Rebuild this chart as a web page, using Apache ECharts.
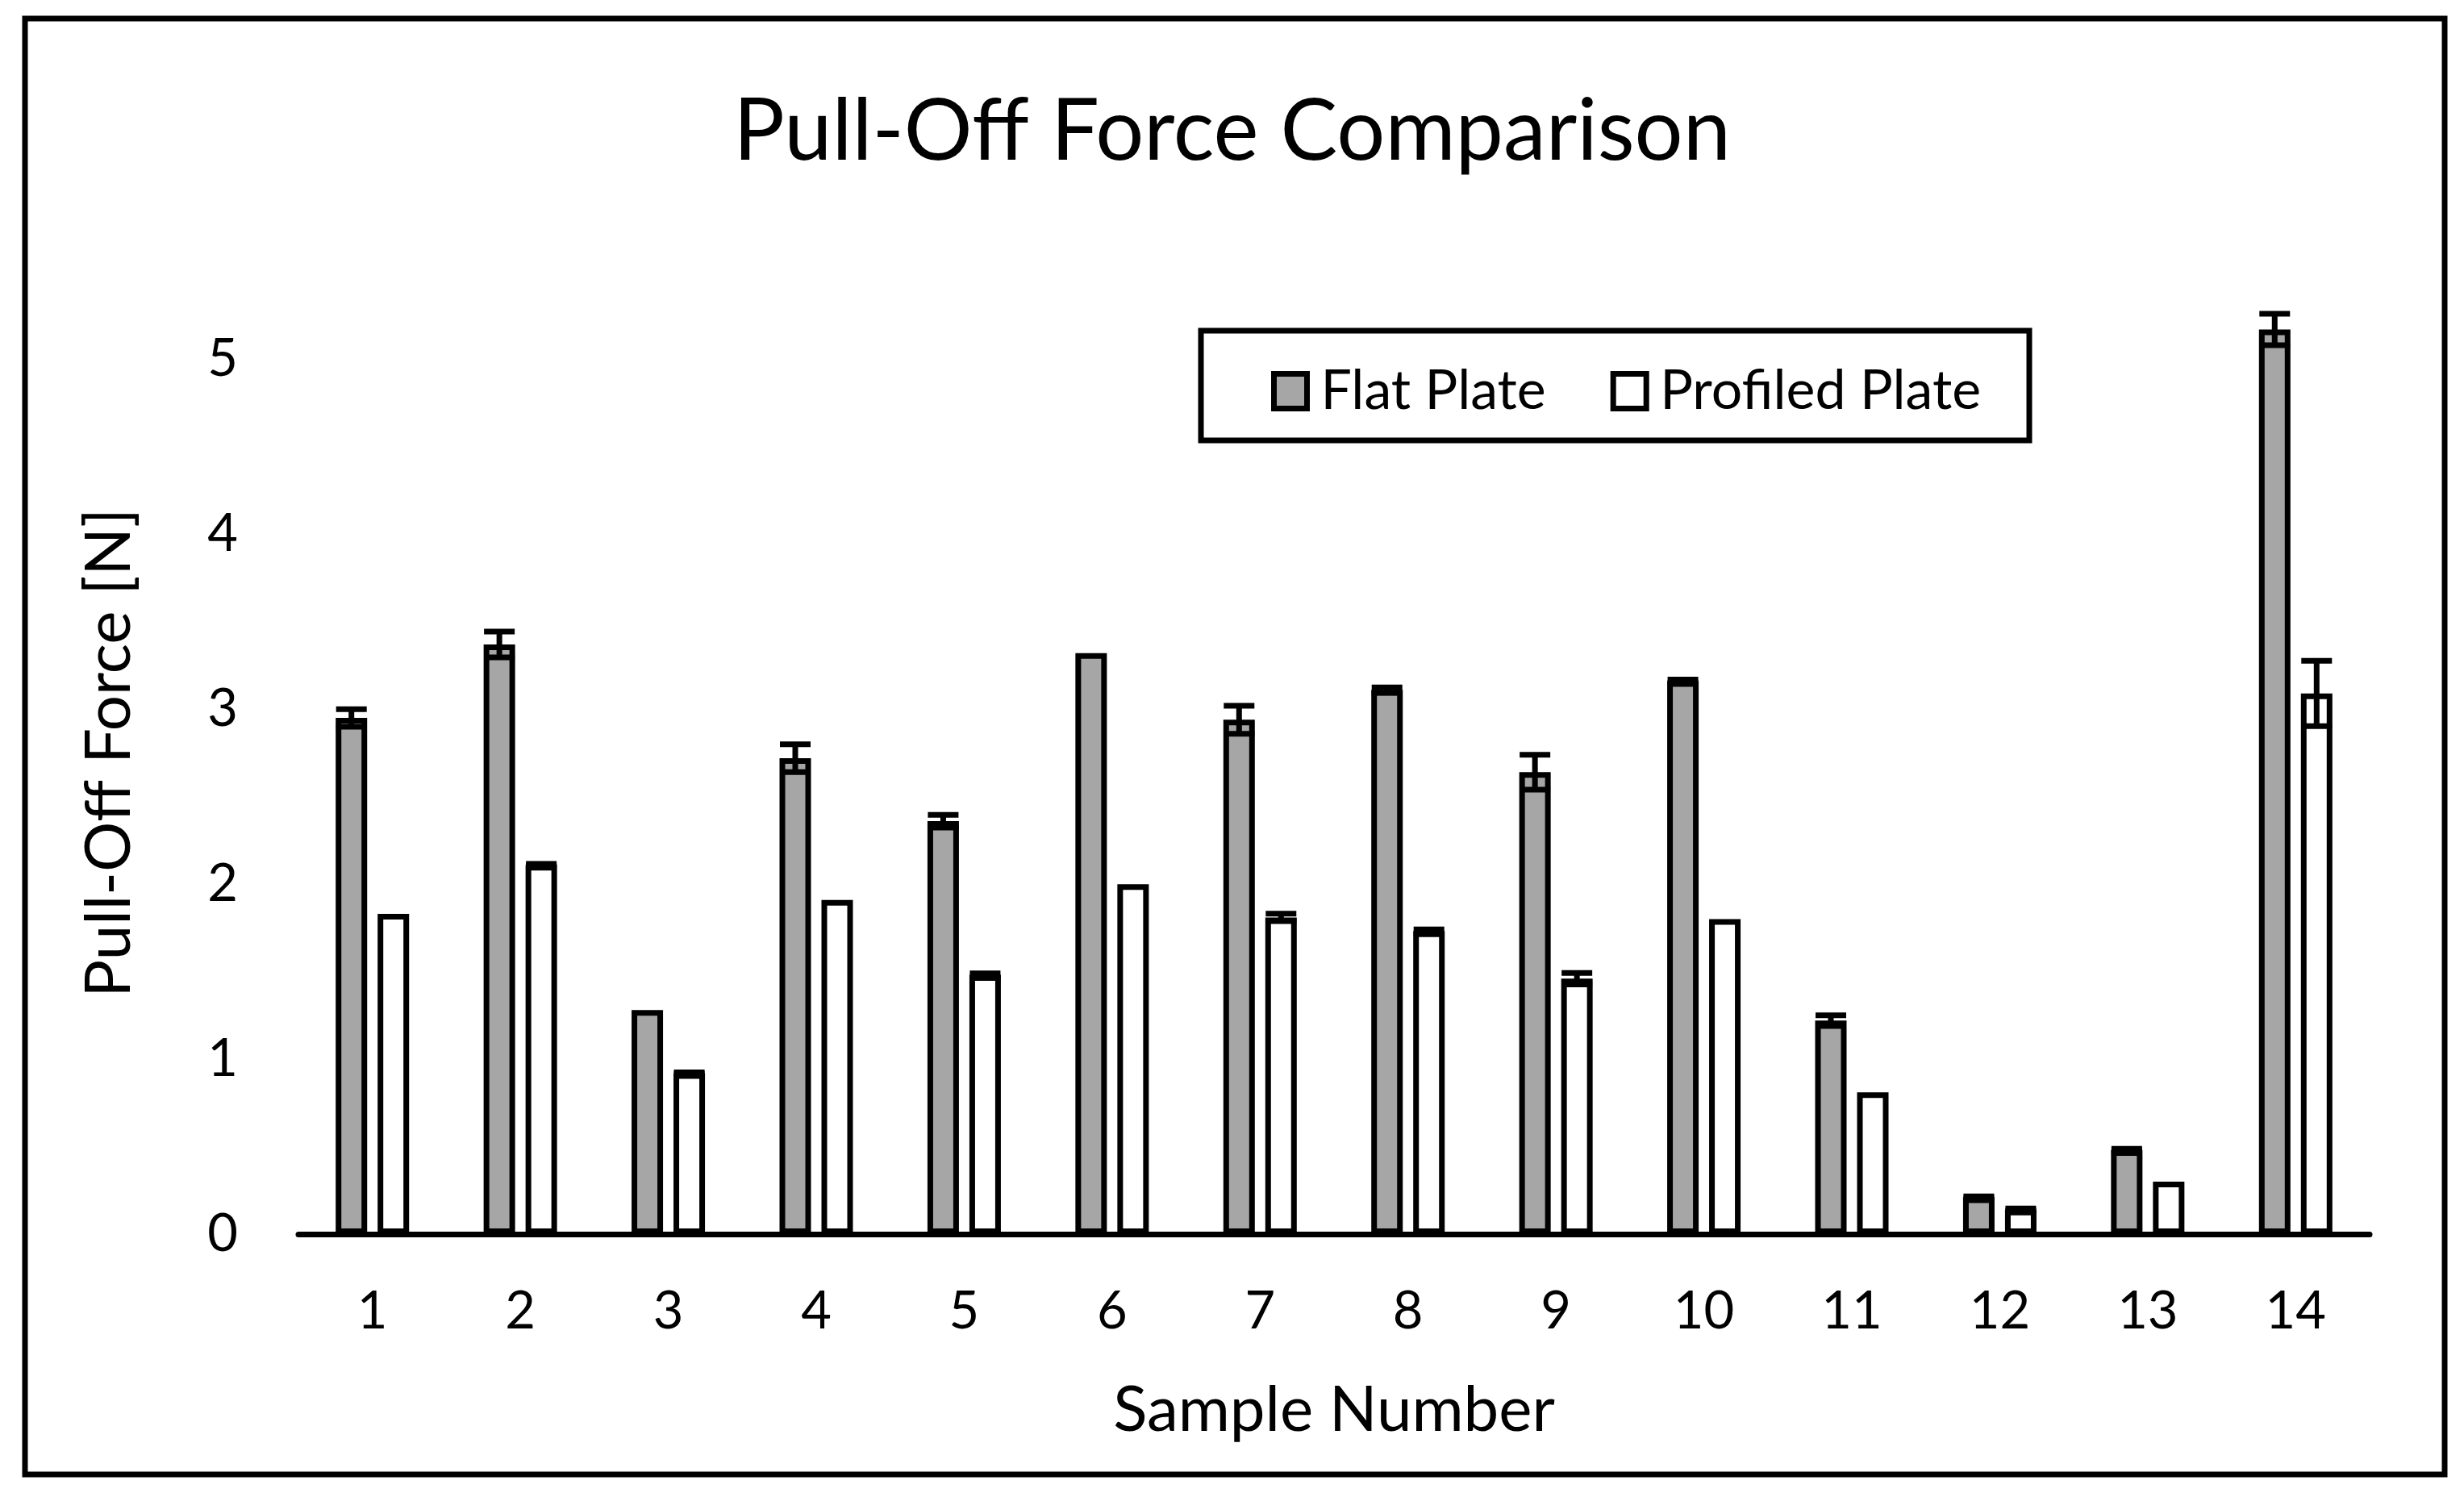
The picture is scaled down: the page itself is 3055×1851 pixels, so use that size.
<!DOCTYPE html>
<html>
<head>
<meta charset="utf-8">
<script src="https://cdn.jsdelivr.net/npm/echarts@6/dist/echarts.min.js"></script>
<style>
html,body{margin:0;padding:0;background:#fff;}
#chart{width:3055px;height:1851px;}
</style>
</head>
<body>
<div id="chart"></div>
<script>
const categories = ['1','2','3','4','5','6','7','8','9','10','11','12','13','14'];
const flatPlate = [2.95, 3.37, 1.28, 2.72, 2.36, 3.32, 2.94, 3.11, 2.64, 3.16, 1.22, 0.21, 0.48, 5.17];
const profiledPlate = [1.83, 2.11, 0.92, 1.91, 1.48, 2.00, 1.81, 1.73, 1.46, 1.80, 0.81, 0.14, 0.30, 3.09];
const flatErr = [0.05, 0.074, 0, 0.08, 0.036, 0, 0.08, 0.015, 0.10, 0.01, 0.03, 0.006, 0.007, 0.09];
const profiledErr = [0, 0.006, 0.004, 0, 0.01, 0, 0.021, 0.012, 0.033, 0, 0, 0.006, 0, 0.187];
const yTicks = [0, 1, 2, 3, 4, 5];

const FONT = 'Lato';
const BAR_W = 39;
const GAP = 13;

function errData(vals, errs) {
  return vals.map((v, i) => [i, v, errs[i]]);
}

function errRender(side) {
  return function (params, api) {
    const e = api.value(2);
    if (!e) return null;
    const idx = api.value(0);
    const v = api.value(1);
    const cx = api.coord([idx, 0])[0] + side * (BAR_W + GAP) / 2;
    const yt = api.coord([idx, v + e])[1];
    const yb = api.coord([idx, v - e])[1];
    const hw = 19;
    const st = {stroke: '#000', lineWidth: 7, lineCap: 'butt'};
    return {
      type: 'group',
      children: [
        {type: 'line', shape: {x1: cx, y1: yt, x2: cx, y2: yb}, style: st},
        {type: 'line', shape: {x1: cx - hw, y1: yt, x2: cx + hw, y2: yt}, style: st},
        {type: 'line', shape: {x1: cx - hw, y1: yb, x2: cx + hw, y2: yb}, style: st}
      ]
    };
  };
}

const chart = echarts.init(document.getElementById('chart'), null, {renderer: 'canvas'});
chart.setOption({
  backgroundColor: '#ffffff',
  animation: false,
  textStyle: {fontFamily: FONT, color: '#000'},
  title: {
    text: 'Pull-Off Force Comparison',
    left: 'center',
    top: 106,
    textStyle: {fontFamily: FONT, fontSize: 106, fontWeight: 'normal', color: '#000'}
  },
  graphic: [
    {type: 'rect', shape: {x: 31, y: 23, width: 3000, height: 1805}, style: {fill: 'none', stroke: '#000', lineWidth: 7}, z: 100},
    {type: 'rect', shape: {x: 1489, y: 410, width: 1027, height: 136}, style: {fill: '#fff', stroke: '#000', lineWidth: 7}, z: 0}
  ],
  legend: {
    data: ['Flat Plate', 'Profiled Plate'],
    left: 1571,
    top: 446,
    itemWidth: 41,
    itemHeight: 43,
    itemGap: 80,
    icon: 'rect',
    itemStyle: {borderColor: '#000', borderWidth: 7},
    textStyle: {fontFamily: FONT, fontSize: 68, color: '#000', lineHeight: 68, padding: [0, 0, 0, 12]},
    z: 5
  },
  grid: {left: 370, right: 117, top: 337, bottom: 321, containLabel: false},
  xAxis: {
    type: 'category',
    data: categories,
    boundaryGap: true,
    axisLine: {show: true, lineStyle: {color: '#000', width: 7}},
    axisTick: {show: false},
    axisLabel: {fontFamily: FONT, fontSize: 65, color: '#000', margin: 64},
    splitLine: {show: false},
    name: 'Sample Number',
    nameLocation: 'middle',
    nameGap: 180,
    nameTextStyle: {fontFamily: FONT, fontSize: 78, color: '#000'}
  },
  yAxis: {
    type: 'value',
    min: 0,
    max: 5.5,
    interval: 1,
    axisLine: {show: false},
    axisTick: {show: false},
    splitLine: {show: false},
    axisLabel: {
      fontFamily: FONT, fontSize: 65, color: '#000', margin: 75,
      formatter: v => (yTicks.indexOf(v) >= 0 ? String(v) : '')
    },
    name: 'Pull-Off Force [N]',
    nameLocation: 'middle',
    nameGap: 195,
    nameTextStyle: {fontFamily: FONT, fontSize: 78, color: '#000'}
  },
  series: [
    {
      name: 'Flat Plate',
      type: 'bar',
      data: flatPlate,
      barWidth: BAR_W,
      barGap: (GAP / BAR_W * 100) + '%',
      itemStyle: {color: '#A6A6A6', borderColor: '#000', borderWidth: 7},
      z: 2
    },
    {
      name: 'Profiled Plate',
      type: 'bar',
      data: profiledPlate,
      barWidth: BAR_W,
      barGap: (GAP / BAR_W * 100) + '%',
      itemStyle: {color: '#FFFFFF', borderColor: '#000', borderWidth: 7},
      z: 2
    },
    {
      name: 'Flat Plate Error',
      type: 'custom',
      renderItem: errRender(-1),
      data: errData(flatPlate, flatErr),
      encode: {x: 0, y: 1},
      z: 5,
      silent: true
    },
    {
      name: 'Profiled Plate Error',
      type: 'custom',
      renderItem: errRender(1),
      data: errData(profiledPlate, profiledErr),
      encode: {x: 0, y: 1},
      z: 5,
      silent: true
    }
  ]
});
</script>
</body>
</html>
